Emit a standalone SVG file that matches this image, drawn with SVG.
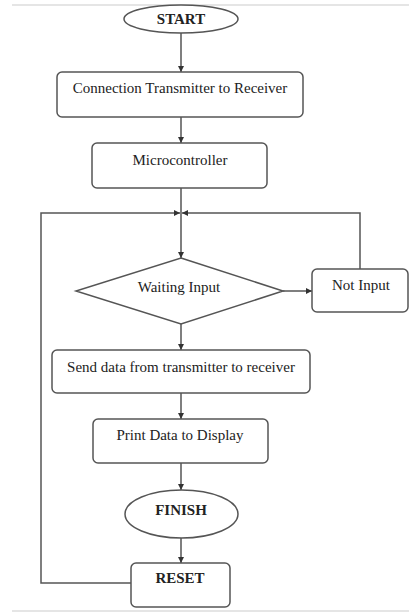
<svg xmlns="http://www.w3.org/2000/svg" width="409" height="613" viewBox="0 0 409 613">
<defs>
<marker id="ah" viewBox="0 0 10 10" refX="10" refY="5" markerWidth="6" markerHeight="6" orient="auto" markerUnits="userSpaceOnUse">
<path d="M0,0 L10,5 L0,10 z" fill="#333"/>
</marker>
<style>
.sh{fill:#fff;stroke:#555;stroke-width:1.5}
.ln{fill:none;stroke:#555;stroke-width:1.5}
.ar{fill:none;stroke:#555;stroke-width:1.5;marker-end:url(#ah)}
.t{font-family:"Liberation Serif","Times New Roman",serif;font-size:15px;fill:#222;text-anchor:middle}
.b{font-weight:bold}
.rule{stroke:#ddd;stroke-width:1.5}
</style>
</defs>
<rect width="409" height="613" fill="#fff"/>
<line class="rule" x1="12" y1="5" x2="409" y2="5"/>
<line class="rule" x1="12" y1="611" x2="409" y2="611"/>
<g id="connectors">
<path class="ar" d="M181,33 V72"/>
<path class="ar" d="M181,117 V143"/>
<path class="ln" d="M181,188 V213"/>
<path class="ar" d="M181,213 V258"/>
<path class="ar" d="M283,291 H312"/>
<path class="ar" d="M360,269 V213 H182"/>
<path class="ar" d="M131,583 H41 V213 H180"/>
<path class="ar" d="M181,324 V350"/>
<path class="ar" d="M181,393 V419"/>
<path class="ar" d="M181,463 V490"/>
<path class="ar" d="M181,538 V563"/>
</g>
<g id="start"><ellipse class="sh" cx="181" cy="19" rx="57" ry="14"/><text class="t b" x="181" y="24">START</text></g>
<g id="connection"><rect class="sh" x="57" y="72" width="246" height="45" rx="5"/><text class="t" x="180" y="93">Connection Transmitter to Receiver</text></g>
<g id="microcontroller"><rect class="sh" x="92" y="143" width="175" height="45" rx="5"/><text class="t" x="180" y="165">Microcontroller</text></g>
<g id="waiting"><polygon class="sh" points="181,258 283,291 181,324 76,291"/><text class="t" x="179" y="292">Waiting Input</text></g>
<g id="notinput"><rect class="sh" x="312" y="269" width="96" height="43" rx="5"/><text class="t" x="361" y="290">Not Input</text></g>
<g id="send"><rect class="sh" x="52" y="350" width="258" height="43" rx="5"/><text class="t" x="181" y="372">Send data from transmitter to receiver</text></g>
<g id="print"><rect class="sh" x="93" y="419" width="175" height="44" rx="5"/><text class="t" x="180" y="440">Print Data to Display</text></g>
<g id="finish"><ellipse class="sh" cx="181.5" cy="514" rx="56.5" ry="24"/><text class="t b" x="181" y="515">FINISH</text></g>
<g id="reset"><rect class="sh" x="131" y="563" width="99" height="44" rx="5"/><text class="t b" x="180" y="583">RESET</text></g>
</svg>
